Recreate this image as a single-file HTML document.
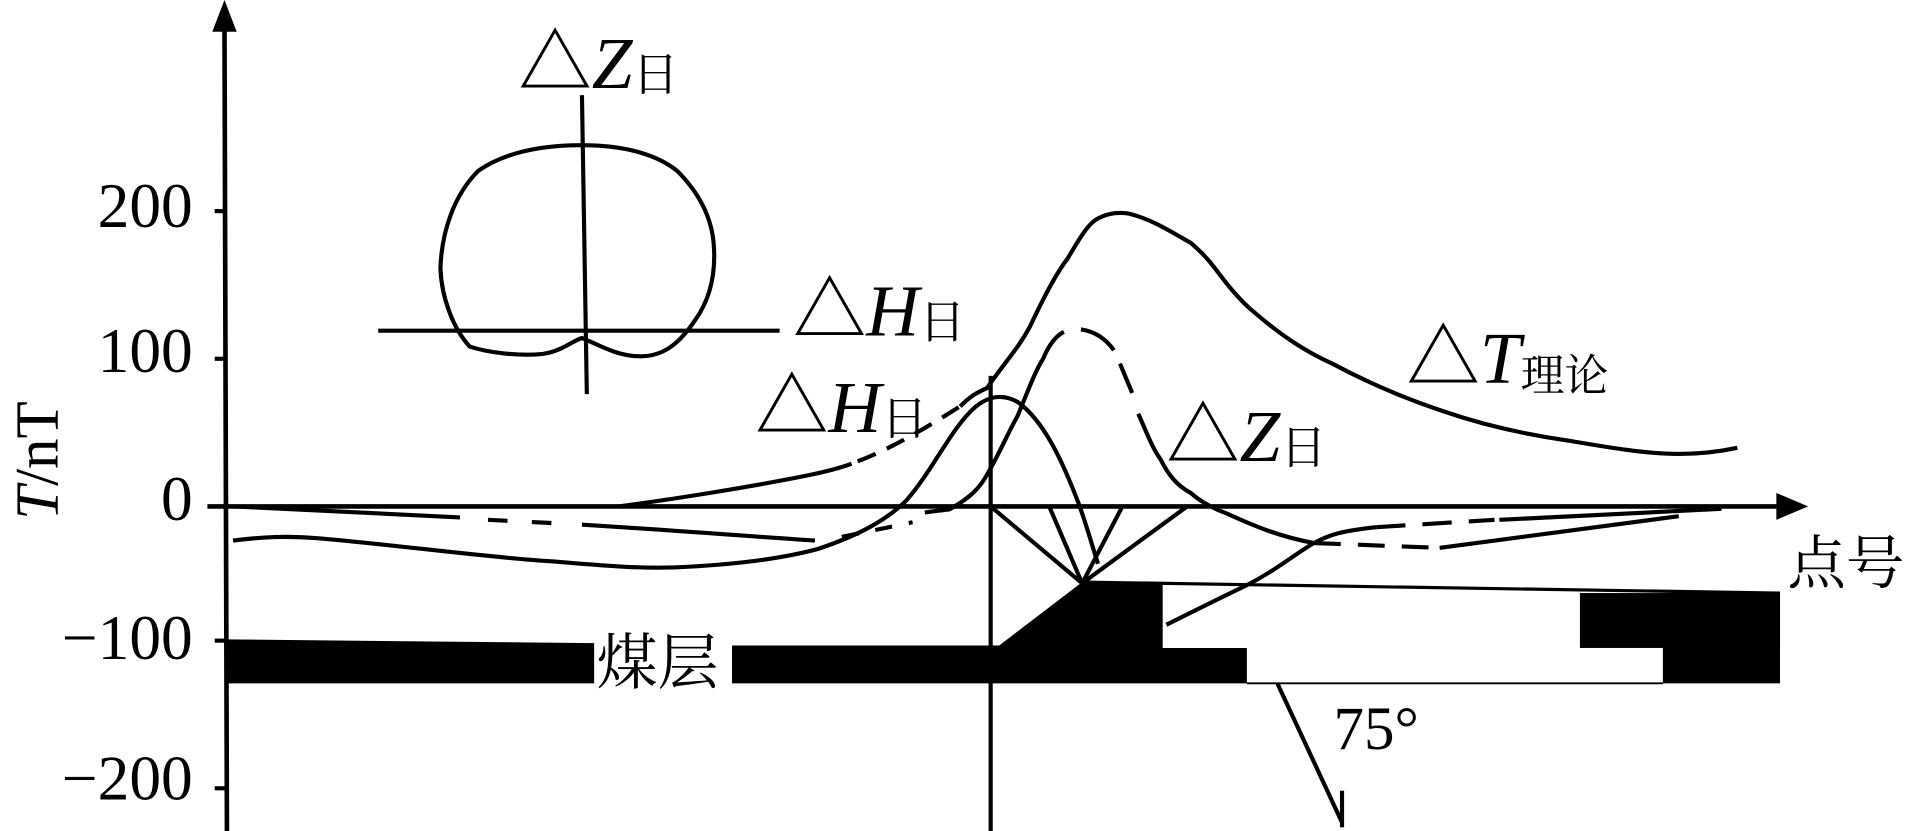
<!DOCTYPE html>
<html><head><meta charset="utf-8"><style>
html,body{margin:0;padding:0;background:#fff;}
svg{display:block;}
text{font-family:"Liberation Serif","Noto Serif CJK SC",serif;fill:#000;}
</style></head><body>
<svg width="1913" height="831" viewBox="0 0 1568 681" preserveAspectRatio="none" xmlns="http://www.w3.org/2000/svg">
<g fill="none" stroke="#000" stroke-width="3.4" stroke-linejoin="round">
<!-- axes -->
<line x1="184" y1="20" x2="186" y2="681" stroke-width="3.8"/>
<line x1="170" y1="415" x2="1460" y2="415" stroke-width="3.8"/>
<line x1="176" y1="173" x2="186" y2="173"/>
<line x1="176" y1="294" x2="186" y2="294"/>
<line x1="176" y1="525" x2="186" y2="525"/>
<line x1="176" y1="646" x2="186" y2="646"/>
<line x1="812" y1="308" x2="812" y2="681"/>
<!-- inset -->
<line x1="477" y1="78" x2="481" y2="323"/>
<line x1="310" y1="271" x2="639" y2="271"/>
<path d="M477,119 C515,119 540,128 555,140 C570,155 583,175 585,200 C587,225 582,245 570,262 C558,280 545,292 525,292 C505,292 490,282 477,277 C468,280 460,288 445,290 C425,292 400,289 385,284 C372,270 362,245 361,220 C362,190 372,160 392,140 C415,124 445,119 477,119 Z"/>
<!-- lowest solid curve -->
<path d="M191,443 C215,440 235,439 260,441 C320,446 400,457 452,460 C490,463 520,466 552,465 C600,463 640,458 670,450 C700,440 725,428 743,410 C765,385 780,350 800,333 C810,325 822,322 835,330 C855,345 870,375 885,415 C892,435 896,450 900,462"/>
<!-- upper-left DH solid + dashed -->
<path d="M507,415 C560,408 620,398 660,390 C680,386 690,383 698,380"/>
<path d="M703,378 C730,368 760,350 787,333" stroke-dasharray="16,10"/>
<!-- ΔT -->
<path d="M787,333 C795,325 800,322 809,318 C825,295 835,285 844,268 C855,245 865,225 875,212 C885,195 892,183 900,179 C910,174 918,174 925,175 C945,180 960,190 976,199 C985,207 990,212 996,220 C1005,232 1015,245 1027,255 C1050,275 1070,288 1092,298 C1120,313 1150,326 1183,337 C1215,348 1250,356 1285,361 C1320,367 1350,372 1376,372 C1395,372 1410,370 1424,367"/>
<!-- ΔZ middle curve -->
<path d="M191,415 C250,418 320,421 377,424"/>
<path d="M400,426 L460,429" stroke-dasharray="16,20"/>
<path d="M477,430 C560,435 620,440 668,443"/>
<path d="M690,440 L748,428" stroke-dasharray="14,14"/>
<path d="M758,420 C770,418 778,418 779,417 C795,408 803,400 809,389 C820,370 826,355 834,341 C842,322 848,305 855,294 C860,282 866,275 872,272"/>
<path d="M886,270 C900,272 908,280 913,287" />
<path d="M918,298 L928,322"/>
<path d="M933,339 C940,355 945,368 951,376 C958,390 965,398 976,404 C985,412 995,417 1006,421 C1030,432 1050,440 1077,445"/>
<path d="M1077,445 L1180,449" stroke-dasharray="22,14"/>
<path d="M1180,449 C1250,440 1320,430 1376,423"/>
<!-- lower right rising curve -->
<path d="M956,512 C980,500 1000,490 1021,480 C1045,468 1060,455 1077,445 C1090,438 1100,435 1128,432"/>
<path d="M1128,432 L1225,426" stroke-dasharray="24,14"/>
<path d="M1229,426 C1300,422 1360,419 1411,417"/>
<!-- apex lines -->
<polyline points="812,415 887,478 973,415"/>
<line x1="860" y1="415" x2="887" y2="478"/>
<line x1="920" y1="415" x2="887" y2="478"/>
<!-- top line of white region -->
<line x1="887" y1="477" x2="1459" y2="486" stroke-width="2.6"/>
<line x1="1022" y1="560" x2="1363" y2="560" stroke-width="1.5"/>
<!-- fault -->
<line x1="1047" y1="560" x2="1100" y2="674"/>
<line x1="1100" y1="648" x2="1100" y2="678"/>
</g>
<!-- arrows -->
<polygon points="184,0 174,26 194,26" fill="#000"/>
<polygon points="1482,415 1456,404 1456,426" fill="#000"/>
<!-- coal seam -->
<g fill="#000">
<polygon points="187,524 487,527 487,560 187,560"/>
<polygon points="600,529 819,529 887,477 953,477 953,531 1022,531 1022,560 600,560"/>
<rect x="1295" y="486" width="164" height="45"/>
<rect x="1363" y="486" width="96" height="74"/>
</g>
<!-- labels -->
<g font-size="52" text-anchor="end">
<text x="158" y="186">200</text>
<text x="158" y="305">100</text>
<text x="158" y="426">0</text>
<text x="158" y="540">−100</text>
<text x="158" y="655">−200</text>
</g>
<text transform="translate(47,426) rotate(-90)" font-size="50"><tspan font-style="italic">T</tspan>/nT</text>
<g font-size="60">
<text x="425" y="72">△<tspan font-style="italic">Z</tspan><tspan font-size="38" dy="2">日</tspan></text>
<text x="650" y="275">△<tspan font-style="italic">H</tspan><tspan font-size="38" dy="2">日</tspan></text>
<text x="619" y="354">△<tspan font-style="italic">H</tspan><tspan font-size="38" dy="2">日</tspan></text>
<text x="1153" y="314">△<tspan font-style="italic">T</tspan><tspan font-size="36" dy="6">理论</tspan></text>
<text x="956" y="378">△<tspan font-style="italic">Z</tspan><tspan font-size="38" dy="2">日</tspan></text>
</g>
<text x="1465" y="478" font-size="48">点号</text>
<text x="489" y="560" font-size="50">煤层</text>
<text x="1093" y="614" font-size="50">75°</text>
</svg>
</body></html>
